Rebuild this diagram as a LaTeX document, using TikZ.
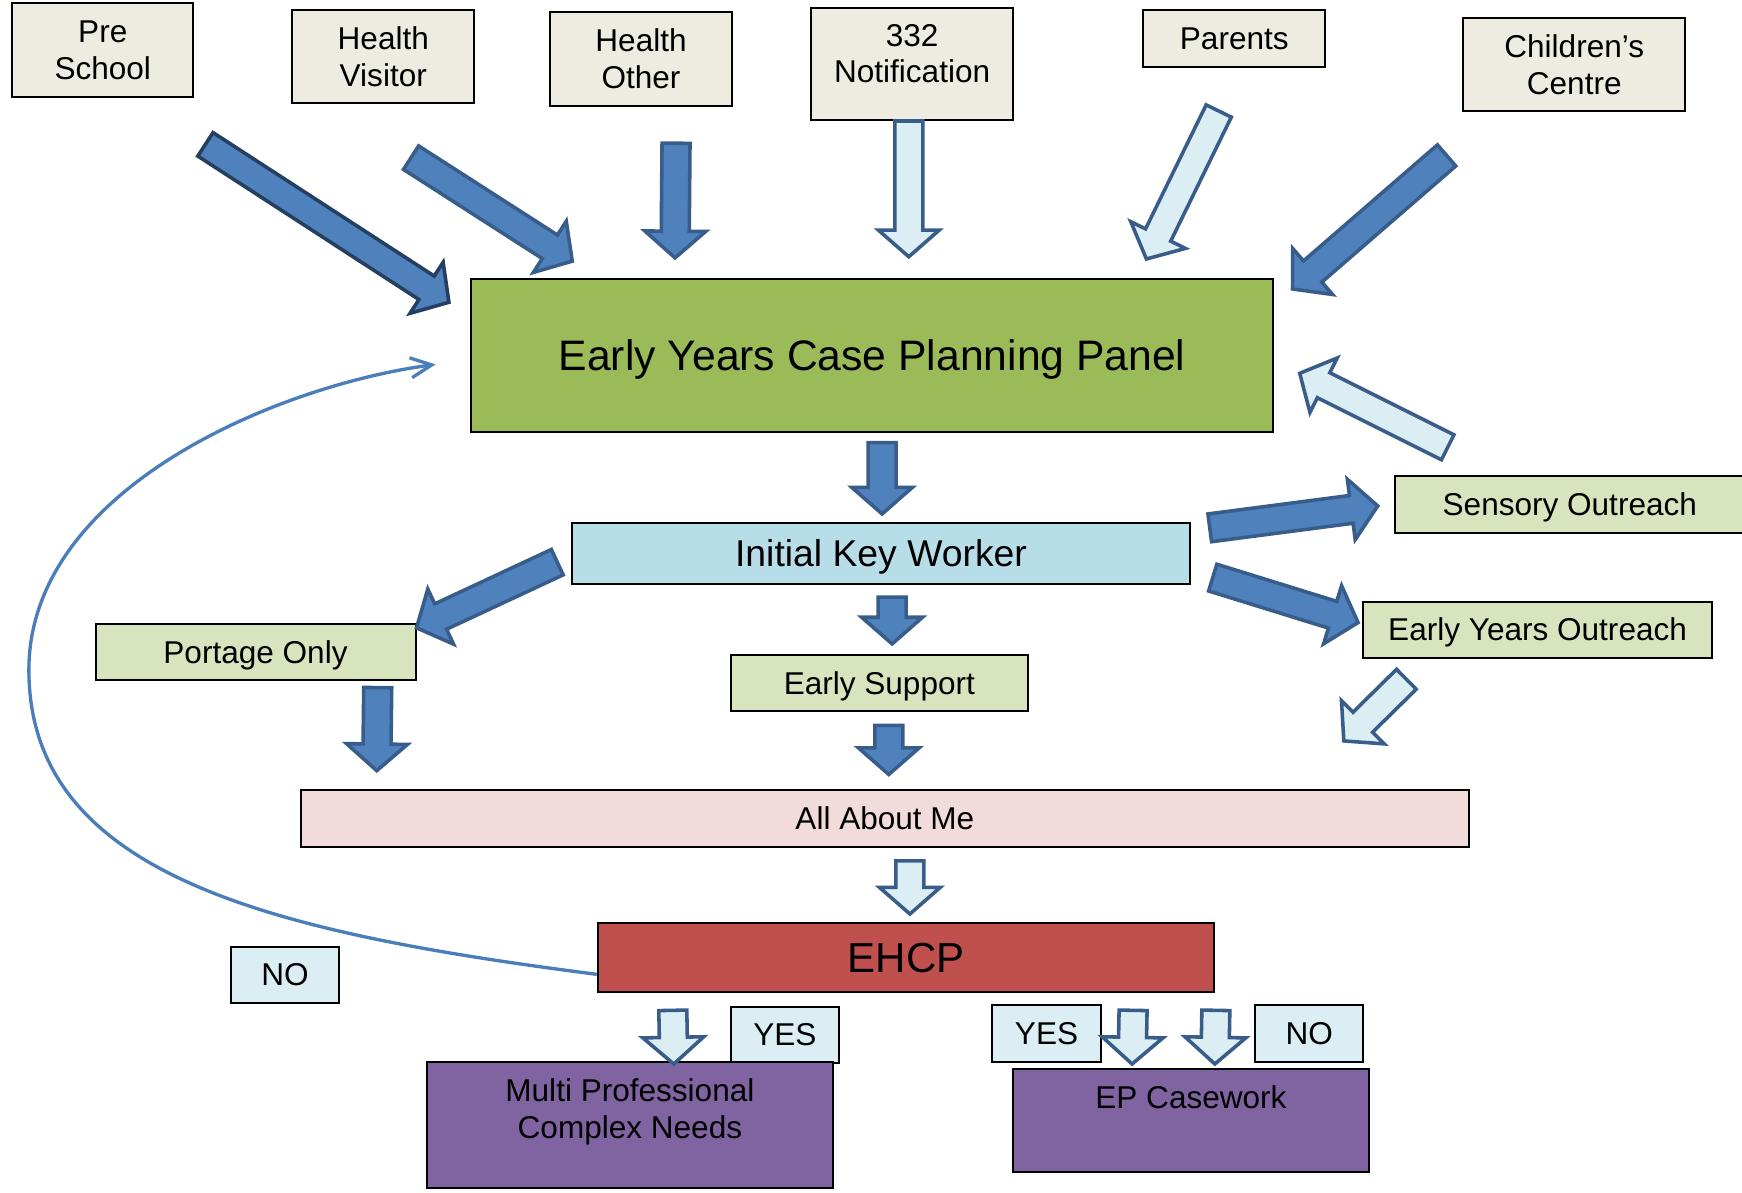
\documentclass[tikz,border=0pt]{standalone}
\usepackage{fontspec}
\setmainfont{Liberation Sans}
\usepackage{tikz}
\usetikzlibrary{arrows.meta, calc}

\definecolor{srcfill}{HTML}{EEECE1}
\definecolor{panelfill}{HTML}{9BBB59}
\definecolor{ikwfill}{HTML}{B7DDE8}
\definecolor{outfill}{HTML}{D7E4BD}
\definecolor{aamfill}{HTML}{F2DCDB}
\definecolor{ehcpfill}{HTML}{C0504D}
\definecolor{ansfill}{HTML}{DBEEF4}
\definecolor{casefill}{HTML}{8064A2}
\definecolor{arrdark}{HTML}{4F81BD}
\definecolor{arrlight}{HTML}{DBEEF4}
\definecolor{arredge}{HTML}{385D8A}
\definecolor{arredgedk}{HTML}{243F60}
\definecolor{backblue}{HTML}{4A7EBB}

\newcommand{\shaftw}{6.3pt}
\newcommand{\headw}{13.7pt}
\newcommand{\headl}{12pt}

% fat block arrow from #2 (tail) to #3 (tip)
\newcommand{\blockarrow}[3][]{%
  \coordinate (bas) at (#2);
  \coordinate (bae) at (#3);
  \coordinate (bah) at ($(bae)!\headl!(bas)$);
  \draw[#1] ($(bas)!\shaftw!90:(bae)$) -- ($(bah)!\shaftw!90:(bae)$)
    -- ($(bah)!\headw!90:(bae)$) -- (bae)
    -- ($(bah)!\headw!-90:(bae)$) -- ($(bah)!\shaftw!-90:(bae)$)
    -- ($(bas)!\shaftw!-90:(bae)$) -- cycle;
}
\newcommand{\topbox}[3]{\parbox[c][#2][t]{#1}{\centering #3}}

\begin{document}
\begin{tikzpicture}[x=0.5pt, y=-0.5pt,
  box/.style={draw, line width=0.9pt, inner sep=0pt, align=center,
              font=\fontsize{14.2}{16.5}\selectfont},
  oneline/.style={text height=12.85pt, text depth=3pt},
  srcbox/.style={box, fill=srcfill},
  outbox/.style={box, oneline, fill=outfill, minimum height=25pt},
  ansbox/.style={box, oneline, fill=ansfill, minimum width=48.5pt, minimum height=25.5pt},
  casebox/.style={box, fill=casefill},
  darr/.style={draw=arredge, fill=arrdark, line width=1.6pt, line join=miter},
  larr/.style={draw=arredge, fill=arrlight, line width=1.6pt, line join=miter},
  backline/.style={draw=backblue, line width=1.5pt,
                   -{Straight Barb[length=9.5pt, width=9pt]}},
]
\useasboundingbox (0,0) rectangle (1568,1073);

% ---- Referral sources ------------------------------------------------------
\node[srcbox, minimum width=81.5pt, minimum height=42pt] (pre) at (92.5,45) {Pre\\School};
\node[srcbox, minimum width=82pt, minimum height=42pt] (hvis) at (345,51) {Health\\Visitor};
\node[srcbox, minimum width=82pt, minimum height=42pt] (hoth) at (577,53) {Health\\Other};
\node[srcbox, minimum width=91pt, minimum height=50.5pt] (notif) at (821,57.5)
  {\topbox{88pt}{35.7pt}{332\\Notification}};
\node[srcbox, oneline, minimum width=82pt, minimum height=25.5pt] (parents) at (1111,34.5) {Parents};
\node[srcbox, minimum width=100pt, minimum height=42pt] (ccentre) at (1417,58) {Children’s\\Centre};

% ---- Panel and key worker --------------------------------------------------
\node[box, fill=panelfill, minimum width=361pt, minimum height=69pt,
      text height=17.4pt, text depth=4.07pt,
      font=\fontsize{19.2}{22}\selectfont] (panel) at (785,320) {Early Years Case Planning Panel};
\node[box, fill=ikwfill, minimum width=278pt, minimum height=27.5pt,
      text height=15.2pt, text depth=3.56pt,
      font=\fontsize{16.8}{20}\selectfont] (ikw) at (793,498.5) {Initial Key Worker};

% ---- Services --------------------------------------------------------------
\node[outbox, minimum width=157pt, minimum height=26pt] (sensory) at (1413,454) {Sensory Outreach};
\node[outbox, minimum width=157pt] (eyout) at (1384,567) {Early Years Outreach};
\node[outbox, minimum width=144pt] (portage) at (230,587) {Portage Only};
\node[outbox, minimum width=133.5pt] (esup) at (791.5,615) {Early Support};
\node[box, oneline, fill=aamfill, minimum width=525.5pt, minimum height=25.5pt] (aam) at (796.5,736.5) {All About Me};

% ---- EHCP and outcomes -----------------------------------------------------
\node[box, fill=ehcpfill, minimum width=277.5pt, minimum height=31pt,
      text height=17.1pt, text depth=4pt,
      font=\fontsize{18.9}{22}\selectfont] (ehcp) at (815.5,862) {EHCP};
\node[ansbox] (nol) at (256.5,877.5) {NO};
\node[ansbox] (yesl) at (706.5,931.5) {YES};
\node[ansbox, minimum width=49pt] (yesr) at (942,930.5) {YES};
\node[ansbox] (nor) at (1178.5,930.5) {NO};
\node[casebox, minimum width=183pt, minimum height=56.5pt] (multi) at (567,1012.5)
  {\topbox{180pt}{41.5pt}{Multi Professional\\Complex Needs}};
\node[casebox, minimum width=160pt, minimum height=46.5pt] (ep) at (1072,1008.5)
  {\topbox{156pt}{31pt}{EP Casework}};

% ---- Referral arrows into the panel ----------------------------------------
\blockarrow[darr, draw=arredgedk]{$(pre.south east)+(10,42)$}{$(panel.north west)+(-19,22)$}
\blockarrow[darr]{$(hvis.south)+(25,48)$}{$(panel.north west)+(92,-15)$}
\blockarrow[darr]{$(hoth.south)+(31.5,33)$}{$(panel.north west)+(184.5,-18)$}
\blockarrow[larr]{$(notif.south)+(-3,0)$}{$(panel.north)+(33,-19)$}
\blockarrow[larr]{$(parents.south)+(-14,39)$}{$(panel.north east)+(-115,-17)$}
\blockarrow[darr]{$(ccentre.south west)+(-14,39)$}{$(panel.north east)+(16.5,10)$}
\blockarrow[larr]{$(sensory.north west)+(48,-24.5)$}{$(panel.east)+(23,16)$}

% ---- Panel to key worker and services --------------------------------------
\blockarrow[darr]{$(panel.south)+(9,8.5)$}{$(ikw.north)+(1,-7.5)$}
\blockarrow[darr]{$(ikw.south)+(10,10.5)$}{$(esup.north)+(11.5,-9.5)$}
\blockarrow[darr]{$(ikw.west)+(-12.5,7.5)$}{$(portage.north east)+(0,4)$}
\blockarrow[darr]{$(ikw.north east)+(17,5)$}{$(sensory.west)+(-15,1.4)$}
\blockarrow[darr]{$(ikw.south east)+(19.7,-7)$}{$(eyout.west)+(-3.7,-6.6)$}

% ---- Into All About Me -----------------------------------------------------
\blockarrow[darr]{$(portage.south)+(110,6)$}{$(aam.north west)+(69,-16.4)$}
\blockarrow[darr]{$(esup.south)+(8.5,12)$}{$(aam.north)+(3.5,-13)$}
\blockarrow[larr]{$(eyout.south west)+(39.8,18.5)$}{$(aam.north east)+(-113.3,-43.2)$}

% ---- EHCP decision ---------------------------------------------------------
\blockarrow[larr]{$(aam.south)+(22.5,12)$}{$(ehcp.north)+(3.5,-7.4)$}
\blockarrow[larr]{$(ehcp.south west)+(68.5,15.5)$}{$(multi.north)+(39.5,2.6)$}
\blockarrow[larr]{$(ehcp.south east)+(-74,15.5)$}{$(ep.north)+(-53,-3.4)$}
\blockarrow[larr]{$(ehcp.south east)+(0.5,15.5)$}{$(ep.north)+(21.5,-3.4)$}

% ---- NO: back to the panel -------------------------------------------------
\coordinate (backin) at ($(panel.west)+(-31,8)$);
\draw[backline] ($(ehcp.west)+(0,15)$) .. controls (250,840) and (26,790) .. (26,603)
  .. controls (26,440) and (250,347) .. (backin);

\end{tikzpicture}
\end{document}
